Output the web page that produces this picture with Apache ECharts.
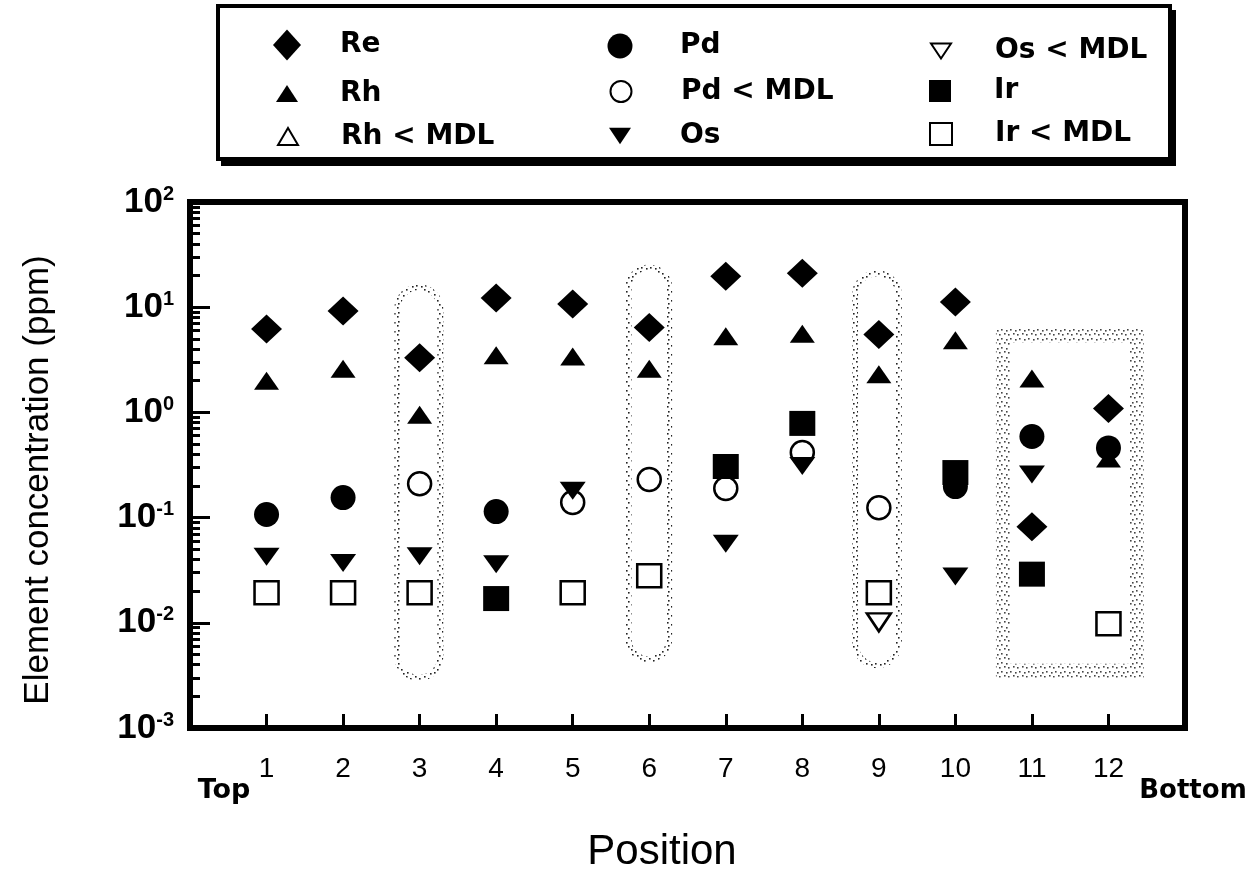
<!DOCTYPE html>
<html>
<head>
<meta charset="utf-8">
<script src="https://cdn.jsdelivr.net/npm/echarts@6/dist/echarts.min.js"></script>
<style>
  html, body { margin: 0; padding: 0; background: #fff; }
  #chart { width: 1252px; height: 894px; }
</style>
</head>
<body>
<div id="chart"></div>
<script>
// Sampling positions along the core, top (1) to bottom (12)
const positions = [1, 2, 3, 4, 5, 6, 7, 8, 9, 10, 11, 12];

// Element concentrations in ppm (null = not reported at that position)
const re    = [6.2, 9.2, 3.3, 12.2, 10.7, 6.4, 19.7, 21, 5.5, 11.2, 0.082, 1.09];
const rh    = [2.0, 2.6, 0.95, 3.5, 3.4, 2.6, 5.3, 5.6, 2.3, 4.85, 2.1, 0.365];
const rhMdl = [null, null, null, null, null, null, null, null, null, null, null, null];
const pd    = [0.107, 0.155, null, 0.114, null, null, null, null, null, 0.197, 0.59, 0.46];
const pdMdl = [null, null, 0.21, null, 0.139, 0.23, 0.189, 0.416, 0.124, null, null, null];
const os    = [0.0425, 0.037, 0.043, 0.036, 0.18, null, 0.0565, 0.31, null, 0.0276, 0.257, null];
const osMdl = [null, null, null, null, null, null, null, null, 0.0101, null, null, null];
const ir    = [null, null, null, 0.017, null, null, 0.306, 0.786, null, 0.268, 0.029, null];
const irMdl = [0.0193, 0.0193, 0.0193, null, 0.0193, 0.028, null, null, 0.0193, null, null, 0.0098];

// Highlighted sample groups: [x from, x to, ppm top, ppm bottom]
const ovalGroups = [
  [2.67, 3.31, 16.5, 0.0028],
  [5.69, 6.30, 25.5, 0.0042],
  [8.65, 9.30, 22.5, 0.0037]
];
const boxGroup = [10.53, 12.46, 6.3, 0.003];

// Axis tick labels
const xTicks = positions;
const yDecades = [0.001, 0.01, 0.1, 1, 10, 100];
const yMinor = [];
for (let d = -3; d <= 1; d++) {
  for (let m = 2; m <= 9; m++) yMinor.push(+(m * Math.pow(10, d)).toPrecision(3));
}

function pairs(values) {
  const out = [];
  values.forEach((v, i) => { if (v != null) out.push([positions[i], v]); });
  return out;
}

// Stippled texture used for the group outlines
function stipple(size, dots, color) {
  const c = document.createElement('canvas');
  c.width = size; c.height = size;
  const ctx = c.getContext('2d');
  ctx.fillStyle = color;
  dots.forEach(([x, y]) => ctx.fillRect(x, y, 1.6, 1.6));
  return c;
}
const sparseDots = stipple(9, [[1, 1], [5, 3], [2, 6], [7, 7]], '#222');
const bandDots   = stipple(9, [[0, 1], [5, 0], [2, 5], [7, 6]], '#444');

const DOWN_TRI = 'path://M0,0L20,0L10,15Z';
const OPEN = { color: '#fff', borderColor: '#000', borderWidth: 2.5, opacity: 1 };
const SOLID = { color: '#000', opacity: 1 };

const groupData = ovalGroups.map(g => g.concat([1])).concat([boxGroup.concat([0])]);

const series = [
  {
    type: 'custom',
    name: 'groups',
    z: 1,
    silent: true,
    data: groupData,
    renderItem(params, api) {
      const a = api.coord([api.value(0), api.value(2)]);
      const b = api.coord([api.value(1), api.value(3)]);
      const w = b[0] - a[0], h = b[1] - a[1];
      if (api.value(4) === 1) {
        const lw = 6;
        return {
          type: 'rect',
          shape: { x: a[0] + lw / 2, y: a[1] + lw / 2, width: w - lw, height: h - lw, r: (w - lw) / 2 },
          style: { fill: 'none', stroke: { image: sparseDots, repeat: 'repeat' }, lineWidth: lw }
        };
      }
      const lw = 14;
      return {
        type: 'rect',
        shape: { x: a[0] + lw / 2, y: a[1] + lw / 2, width: w - lw, height: h - lw },
        style: { fill: 'none', stroke: { image: bandDots, repeat: 'repeat' }, lineWidth: lw }
      };
    }
  },
  { type: 'scatter', name: 'Ir < MDL', symbol: 'rect', symbolSize: [24, 23], itemStyle: OPEN, data: pairs(irMdl) },
  { type: 'scatter', name: 'Pd < MDL', symbol: 'circle', symbolSize: 23, itemStyle: OPEN, data: pairs(pdMdl) },
  { type: 'scatter', name: 'Os < MDL', symbol: DOWN_TRI, symbolSize: [24, 18], itemStyle: OPEN, data: pairs(osMdl) },
  { type: 'scatter', name: 'Rh < MDL', symbol: 'triangle', symbolSize: [24, 18], itemStyle: OPEN, data: pairs(rhMdl) },
  { type: 'scatter', name: 'Os', symbol: DOWN_TRI, symbolSize: [26, 18], itemStyle: SOLID, data: pairs(os) },
  { type: 'scatter', name: 'Pd', symbol: 'circle', symbolSize: 25, itemStyle: SOLID, data: pairs(pd) },
  { type: 'scatter', name: 'Ir', symbol: 'rect', symbolSize: [26, 25], itemStyle: SOLID, data: pairs(ir) },
  { type: 'scatter', name: 'Rh', symbol: 'triangle', symbolSize: [25, 18], itemStyle: SOLID, data: pairs(rh) },
  { type: 'scatter', name: 'Re', symbol: 'diamond', symbolSize: [31, 29], itemStyle: SOLID, data: pairs(re) }
];

// One legend block per entry so each keeps its own icon size
const legendFont = { fontFamily: 'DejaVu Sans', fontWeight: 'bold', fontSize: 28, color: '#000' };
function legendEntry(name, cx, cy, w, h, textX) {
  return {
    data: [name],
    orient: 'vertical',
    left: cx - w / 2,
    top: cy - h / 2,
    itemWidth: w,
    itemHeight: h,
    padding: 0,
    selectedMode: false,
    textStyle: Object.assign({ padding: [0, 0, 0, Math.max(0, textX - (cx + w / 2) - 5)] }, legendFont)
  };
}
const rowY = [45, 88, 131];
const colIcon = [287, 620, 940];
const colText = [340, 680, 994];
const legends = [
  legendEntry('Re', colIcon[0], rowY[0], 28, 31, colText[0]),
  legendEntry('Rh', colIcon[0], rowY[1], 22, 17, colText[0]),
  legendEntry('Rh < MDL', colIcon[0], rowY[2], 20, 17, colText[0]),
  legendEntry('Pd', colIcon[1], rowY[0], 25, 26, colText[1]),
  legendEntry('Pd < MDL', colIcon[1], rowY[1], 21, 21, colText[1]),
  legendEntry('Os', colIcon[1], rowY[2], 22, 18, colText[1]),
  legendEntry('Os < MDL', colIcon[2], rowY[0], 20, 16, colText[2]),
  legendEntry('Ir', colIcon[2], rowY[1], 22, 22, colText[2]),
  legendEntry('Ir < MDL', colIcon[2], rowY[2], 22, 22, colText[2])
];

const option = {
  animation: false,
  backgroundColor: '#fff',
  grid: { left: 190, right: 67, top: 202, bottom: 166, show: true, borderColor: '#000', borderWidth: 6, backgroundColor: 'transparent' },
  legend: legends,
  xAxis: {
    type: 'value',
    min: 0,
    max: 13,
    interval: 1,
    splitLine: { show: false },
    axisLine: { onZero: false, lineStyle: { color: '#000', width: 6 } },
    axisTick: { inside: true, length: 14, lineStyle: { color: '#000', width: 3 }, customValues: xTicks },
    axisLabel: { customValues: xTicks, margin: 27, color: '#000', fontSize: 28, fontFamily: 'Liberation Sans' }
  },
  yAxis: [
    {
      type: 'log',
      logBase: 10,
      min: 0.001,
      max: 100,
      position: 'left',
      splitLine: { show: false },
      axisLine: { lineStyle: { color: '#000', width: 6 } },
      axisTick: { inside: true, length: 20, lineStyle: { color: '#000', width: 3 }, customValues: yDecades },
      axisLabel: {
        customValues: yDecades,
        margin: 16,
        color: '#000',
        formatter: v => '{b|10}{s|' + Math.round(Math.log10(v)) + '}',
        rich: {
          b: { fontSize: 35, fontWeight: 'bold', fontFamily: 'Liberation Sans', color: '#000', lineHeight: 36 },
          s: { fontSize: 20, fontWeight: 'bold', fontFamily: 'Liberation Sans', color: '#000', verticalAlign: 'top', lineHeight: 36 }
        }
      }
    },
    {
      type: 'log',
      logBase: 10,
      min: 0.001,
      max: 100,
      position: 'left',
      offset: 0,
      splitLine: { show: false },
      axisLine: { show: false },
      axisTick: { inside: true, length: 10, lineStyle: { color: '#000', width: 3 }, customValues: yMinor },
      axisLabel: { show: false }
    }
  ],
  graphic: [
    { type: 'rect', z: 0, shape: { x: 221, y: 10, width: 955, height: 156 }, style: { fill: '#000' } },
    { type: 'rect', z: 0, shape: { x: 218, y: 6, width: 952, height: 153 }, style: { fill: '#fff', stroke: '#000', lineWidth: 4 } },
    {
      type: 'text', x: 38, y: 480, rotation: Math.PI / 2,
      style: { text: 'Element concentration (ppm)', font: '35px "Liberation Sans"', fill: '#000', align: 'center', verticalAlign: 'middle' }
    },
    { type: 'text', x: 662, y: 852, style: { text: 'Position', font: '42px "Liberation Sans"', fill: '#000', align: 'center', verticalAlign: 'middle' } },
    { type: 'text', x: 224, y: 791, style: { text: 'Top', font: 'bold 27px "DejaVu Sans"', fill: '#000', align: 'center', verticalAlign: 'middle' } },
    { type: 'text', x: 1193, y: 791, style: { text: 'Bottom', font: 'bold 26px "DejaVu Sans"', fill: '#000', align: 'center', verticalAlign: 'middle' } }
  ],
  series: series
};

const chart = echarts.init(document.getElementById('chart'), null, { renderer: 'canvas' });
chart.setOption(option);
</script>
</body>
</html>
